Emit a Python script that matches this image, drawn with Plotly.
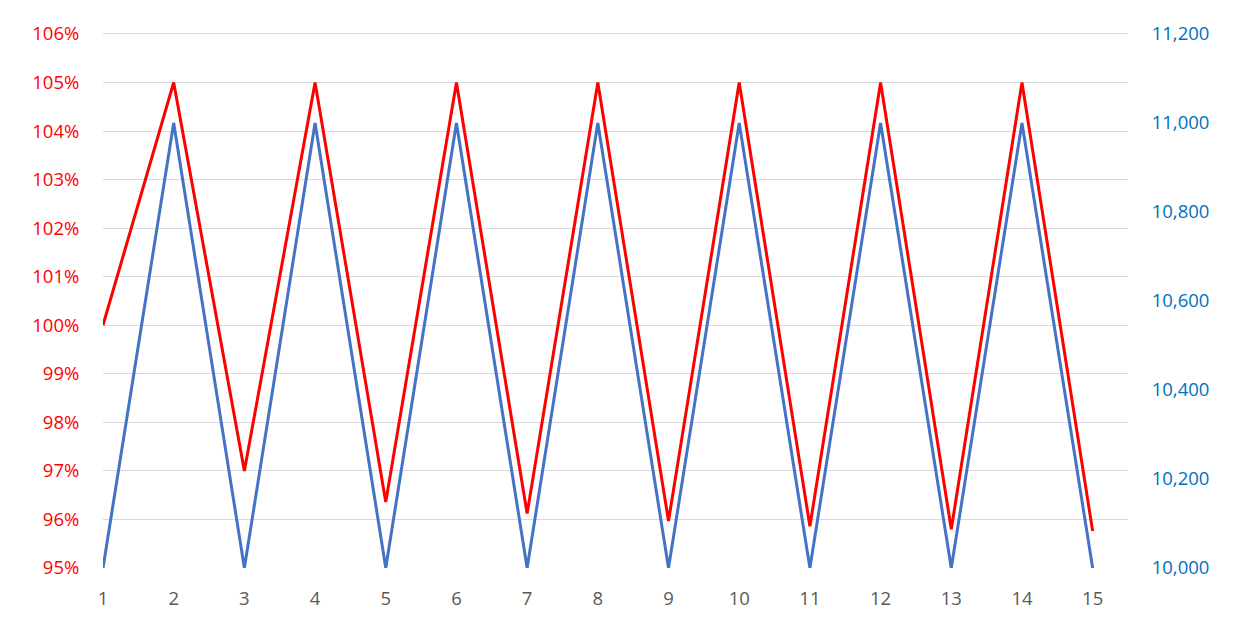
import plotly.graph_objects as go

periods = list(range(1, 16))
pct_values = [100, 105, 97.0, 105, 96.36, 105, 96.12, 105, 95.97, 105, 95.86, 105, 95.8, 105, 95.76]
value_series = [10000, 11000, 10000, 11000, 10000, 11000, 10000, 11000, 10000, 11000, 10000, 11000, 10000, 11000, 10000]

pct_ticks = list(range(95, 107))
value_ticks = list(range(10000, 11201, 200))

fig = go.Figure()
fig.add_trace(go.Scatter(x=periods, y=value_series, mode="lines", yaxis="y2",
                         line=dict(color="#4472C4", width=3), showlegend=False))
fig.add_trace(go.Scatter(x=periods, y=pct_values, mode="lines", yaxis="y",
                         line=dict(color="#FF0000", width=3), showlegend=False))

font_family = "Open Sans, Liberation Sans, sans-serif"
fs = 18.5
pad = 0.06  # small headroom so the top gridline is drawn
fig.update_layout(
    width=1253, height=638,
    margin=dict(l=95, r=133, t=23, b=78),
    plot_bgcolor="white", paper_bgcolor="white",
    font=dict(family=font_family, size=fs),
    xaxis=dict(range=[1, 15.5], tickmode="array", tickvals=periods,
               ticktext=[str(p) for p in periods], showgrid=False, zeroline=False,
               showline=False, tickfont=dict(color="#595959", size=fs),
               ticks="outside", ticklen=14, tickcolor="rgba(0,0,0,0)"),
    yaxis=dict(range=[95, 106 + pad], tickmode="array",
               tickvals=pct_ticks,
               ticktext=[f"{v}%" for v in pct_ticks], showgrid=True,
               gridcolor="#D9D9D9", gridwidth=1, zeroline=False, showline=False,
               tickfont=dict(color="#FF0000", size=fs),
               ticks="outside", ticklen=19, tickcolor="rgba(0,0,0,0)"),
    yaxis2=dict(range=[10000, 11200 + pad * 1200 / 11], tickmode="array",
                tickvals=value_ticks,
                ticktext=[f"{v:,}" for v in value_ticks],
                overlaying="y", side="right", showgrid=False, zeroline=False,
                showline=False, tickfont=dict(color="#0070C0", size=fs),
                ticks="outside", ticklen=19, tickcolor="rgba(0,0,0,0)"),
)

fig.write_html("out.html")
